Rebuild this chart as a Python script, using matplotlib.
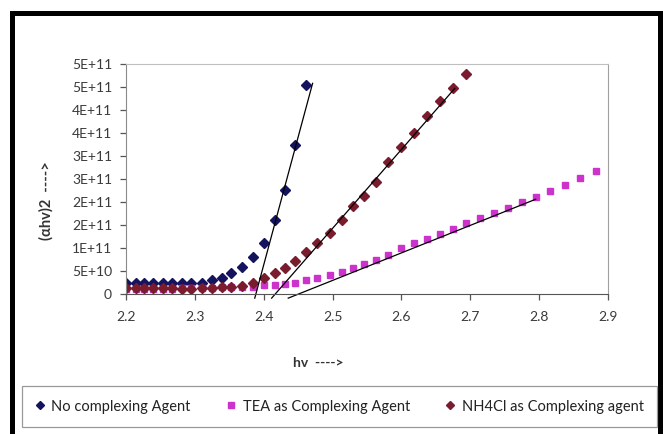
import matplotlib.pyplot as plt
from matplotlib.lines import Line2D
from matplotlib.patches import Rectangle
from matplotlib.ticker import FixedLocator, FixedFormatter

plt.rcParams['font.family'] = ['Lato', 'DejaVu Sans']

# photon energy grid (eV)
hv = [2.200, 2.214, 2.226, 2.239, 2.254, 2.267, 2.281, 2.294, 2.310, 2.325,
      2.339, 2.353, 2.368, 2.384, 2.400, 2.416, 2.431, 2.446, 2.462, 2.478,
      2.496, 2.513, 2.529, 2.546, 2.563, 2.581, 2.599, 2.618, 2.637, 2.656,
      2.675, 2.694, 2.714, 2.734, 2.755, 2.775, 2.795, 2.816, 2.838, 2.860,
      2.883]

# (alpha h nu)^2 in units of 1e11
no_agent = [0.24, 0.24, 0.24, 0.24, 0.24, 0.24, 0.23, 0.23, 0.25, 0.30,
            0.35, 0.46, 0.59, 0.80, 1.10, 1.61, 2.26, 3.25, 4.54]
tea = [0.10, 0.10, 0.10, 0.10, 0.11, 0.11, 0.12, 0.12, 0.13, 0.13,
       0.16, 0.16, 0.16, 0.16, 0.19, 0.19, 0.21, 0.25, 0.30, 0.35,
       0.41, 0.48, 0.56, 0.66, 0.74, 0.85, 0.99, 1.10, 1.19, 1.30,
       1.42, 1.54, 1.65, 1.76, 1.87, 1.99, 2.11, 2.24, 2.38, 2.53,
       2.68]
nh4cl = [0.12, 0.12, 0.12, 0.12, 0.12, 0.12, 0.11, 0.11, 0.12, 0.14,
         0.16, 0.16, 0.17, 0.25, 0.35, 0.46, 0.57, 0.72, 0.91, 1.11,
         1.33, 1.60, 1.92, 2.14, 2.43, 2.86, 3.19, 3.51, 3.88, 4.20,
         4.48, 4.79]

# hand-drawn linear extrapolations (x, y in 1e11)
fit_no_x, fit_no_y = [2.387, 2.471], [-0.09, 4.58]
fit_tea_x, fit_tea_y = [2.4356, 2.795], [-0.09, 2.06]
fit_nh4_x, fit_nh4_y = [2.4115, 2.6775], [-0.09, 4.47]

ytick_vals = [0, 0.5, 1.0, 1.5, 2.0, 2.5, 3.0, 3.5, 4.0, 4.5, 5.0]
ytick_labels = ['0', '5E+10', '1E+11', '2E+11', '2E+11', '3E+11', '3E+11',
                '4E+11', '4E+11', '5E+11', '5E+11']
xtick_vals = [2.2, 2.3, 2.4, 2.5, 2.6, 2.7, 2.8, 2.9]

labels = ['No complexing Agent', 'TEA as Complexing Agent', 'NH4Cl as Complexing agent']
colors = ['#14145e', '#cc33cc', '#7a1b2e']
markers = ['D', 's', 'D']

W, H = 663, 434
fig = plt.figure(figsize=(W / 100, H / 100), dpi=100)
ax = fig.add_axes([126 / W, (H - 294) / H, (608 - 126) / W, 230 / H])

ax.plot(hv[:len(no_agent)], [v * 1e11 for v in no_agent], ls='none',
        marker=markers[0], ms=4.8, color=colors[0])
ax.plot(hv[:len(tea)], [v * 1e11 for v in tea], ls='none',
        marker=markers[1], ms=4.8, color=colors[1])
ax.plot(hv[:len(nh4cl)], [v * 1e11 for v in nh4cl], ls='none',
        marker=markers[2], ms=4.8, color=colors[2])

for fx, fy in [(fit_no_x, fit_no_y), (fit_tea_x, fit_tea_y), (fit_nh4_x, fit_nh4_y)]:
    ax.plot(fx, [v * 1e11 for v in fy], color='black', lw=0.9, clip_on=False)

ax.set_xlim(2.2, 2.9)
ax.set_ylim(0, 5e11)
ax.set_xticks(xtick_vals)
ax.set_xticklabels([f'{v:.1f}' for v in xtick_vals])
ax.yaxis.set_major_locator(FixedLocator([v * 1e11 for v in ytick_vals]))
ax.yaxis.set_major_formatter(FixedFormatter(ytick_labels))
ax.tick_params(axis='both', direction='out', length=4, width=0.9,
               labelsize=10, labelcolor='#3a3a3a', color='#555555')
ax.tick_params(axis='y', pad=6)
ax.tick_params(axis='x', pad=8)

ax.spines['left'].set_color('#8a8a8a')
ax.spines['bottom'].set_color('#555555')
ax.spines['top'].set_color('#c0c0c0')
ax.spines['right'].set_color('#a0a0a0')

ax.set_xlabel('hv  ---->', fontsize=10, fontweight='bold', color='#333333')
ax.xaxis.set_label_coords((318 - 126) / 482, (294 - 357) / 230)
fig.text(46 / W, (H - 201) / H, '(\u03b1hv)2  ---->', rotation=90, ha='center',
         va='center', fontsize=10.5, fontweight='bold', color='#333333')

handles = [Line2D([], [], ls='none', marker=m, color=c, ms=3.8)
           for m, c in zip(markers, colors)]
leg = fig.legend(handles, labels, loc='center', ncol=3, mode='expand',
                 bbox_to_anchor=(22 / W, (H - 427) / H, 635 / W, 41 / H),
                 fancybox=False, edgecolor='#808080', fontsize=10.5,
                 handlelength=0.6, handletextpad=0.5, borderaxespad=0,
                 borderpad=0.9)
leg.get_frame().set_linewidth(0.9)
for t in leg.get_texts():
    t.set_color('#222222')

fig.patches.append(Rectangle((11.5 / W, -0.05), (660 - 11.5) / W, (H - 13.5) / H + 0.05,
                             transform=fig.transFigure, fill=False, ec='black',
                             lw=3.6, clip_on=False))

fig.savefig('out.png', dpi=100)
